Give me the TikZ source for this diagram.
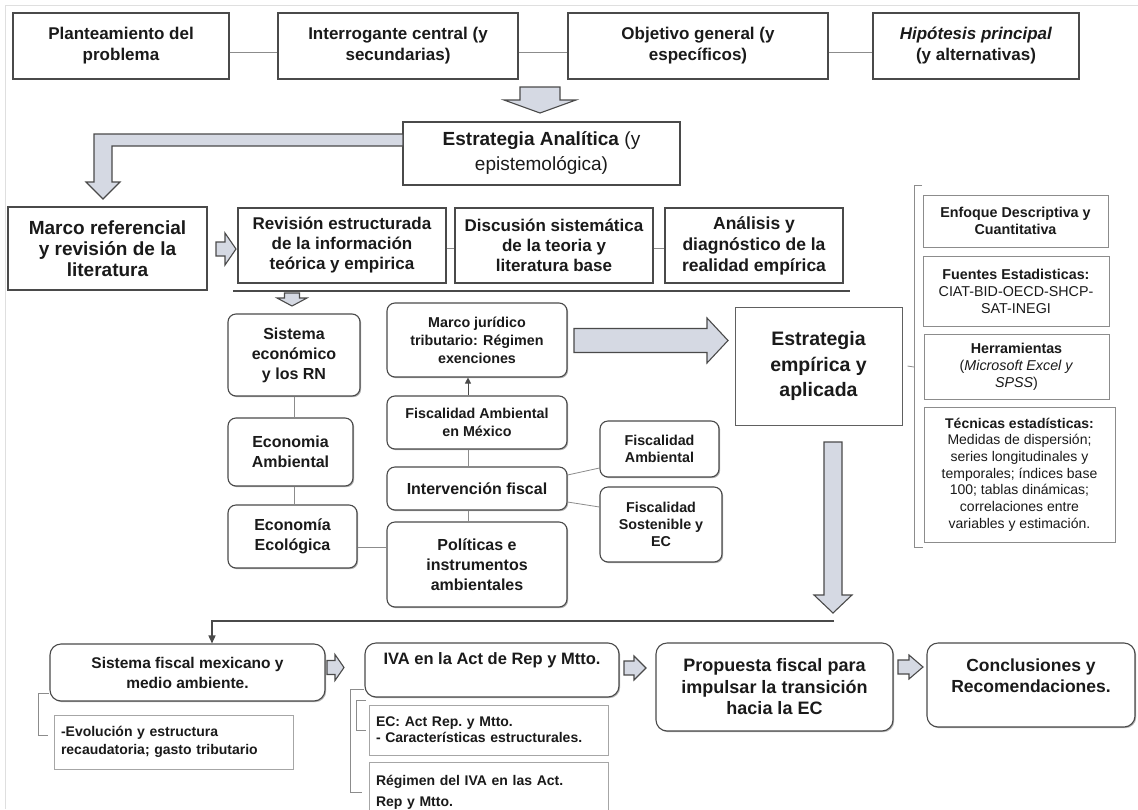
\documentclass[tikz,border=0pt]{standalone}
\usepackage{fontspec}
\setmainfont{Liberation Sans}
\usetikzlibrary{shadows,arrows.meta}
\definecolor{edge}{HTML}{4A4A4A}
\definecolor{afill}{HTML}{D5D9E3}
\definecolor{lgray}{HTML}{8C8C8C}
\definecolor{txt}{HTML}{1A1A1A}
\newcommand\FS[2]{\fontsize{#1}{#2}\selectfont}
% block arrow pointing down: cx, ytop, yhead, ytip, shaft half, head half, name
\newcommand\BlkDown[7]{%
  \draw[blk] ({#1-#5},#2) -- ({#1+#5},#2) -- ({#1+#5},#3) -- ({#1+#6},#3) -- (#1,#4) -- ({#1-#6},#3) -- ({#1-#5},#3) -- cycle;
  \coordinate (#7) at (#1,#4);}
% block arrow pointing right: cy, xleft, xhead, xtip, shaft half, head half, name
\newcommand\BlkRight[7]{%
  \draw[blk] (#2,{#1-#5}) -- (#3,{#1-#5}) -- (#3,{#1-#6}) -- (#4,#1) -- (#3,{#1+#6}) -- (#3,{#1+#5}) -- (#2,{#1+#5}) -- cycle;
  \coordinate (#7) at (#4,#1);}
\tikzset{
  sqbox/.style={draw=edge, line width=1.1pt, fill=white, inner sep=0pt, align=center, text=txt,
    drop shadow={shadow xshift=1.2pt, shadow yshift=-1.2pt, opacity=0.3, fill=black}},
  rbox/.style={sqbox, rounded corners=8pt},
  gbox/.style={draw=lgray, line width=1pt, fill=white, inner sep=0pt, align=center, text=txt,
    drop shadow={shadow xshift=1pt, shadow yshift=-1pt, opacity=0.2, fill=black}},
  blk/.style={draw=edge, line width=1.1pt, fill=afill, line join=miter},
  conn/.style={draw=lgray, line width=0.8pt},
  heavy/.style={draw=edge, line width=1.7pt},
  txtnode/.style={inner sep=0pt, align=center, text=txt},
}
\begin{document}
\begin{tikzpicture}[x=1pt,y=-1pt]
\useasboundingbox (0,0) rectangle (1138,809);
\fill[white] (0,0) rectangle (1138,809);
\draw[gray!25, line width=0.8pt] (1138,5) -- (5,5) -- (5,809);

% ---------- top row
\node[sqbox, font=\FS{17}{21}\bfseries, minimum width=216, minimum height=66] (b1) at (121,46) {Planteamiento del\\problema};
\node[sqbox, font=\FS{17}{21}\bfseries, minimum width=240, minimum height=66] (b2) at (398,46) {Interrogante central (y\\secundarias)};
\node[sqbox, font=\FS{17}{21}\bfseries, minimum width=260, minimum height=66] (b3) at (698,46) {Objetivo general (y\\específicos)};
\node[sqbox, font=\FS{17}{21}\bfseries, minimum width=206, minimum height=66] (b4) at (976,46) {\textit{Hipótesis principal}\\(y alternativas)};
\draw[conn] ([yshift=-6pt]b1.east) -- ([yshift=-6pt]b2.west);
\draw[conn] ([yshift=-6pt]b2.east) -- ([yshift=-6pt]b3.west);
\draw[conn] ([yshift=-6pt]b3.east) -- ([yshift=-6pt]b4.west);

\BlkDown{540}{87}{100}{113}{20}{36}{a1}

\node[sqbox, font=\FS{19}{25}, minimum width=277, minimum height=63] (ea) at (541.5,153.5) {\textbf{Estrategia Analítica} (y\\epistemológica)};
\draw[blk] (403,134) -- (94,134) -- (94,182) -- (86,182) -- (103,199) -- (120,182) -- (112,182) -- (112,146) -- (403,146) -- cycle;

% ---------- second row
\node[sqbox, font=\FS{19}{21}\bfseries, minimum width=199, minimum height=83] (mr) at (107.5,248.5) {Marco referencial\\y revisión de la\\literatura};
\BlkRight{249}{216}{225}{236}{7}{16}{a2}
\node[sqbox, font=\FS{17}{20}\bfseries, minimum width=208, minimum height=75] (rev) at (342,245.5) {Revisión estructurada\\de la información\\teórica y empirica};
\node[sqbox, font=\FS{17}{20}\bfseries, minimum width=198, minimum height=75] (dis) at (554,245.5) {Discusión sistemática\\de la teoria y\\literatura base};
\node[sqbox, font=\FS{17.5}{21}\bfseries, minimum width=178, minimum height=75] (ana) at (754,245.5) {Análisis y\\diagnóstico de la\\realidad empírica};
\draw[conn] ([yshift=-3pt]rev.east) -- ([yshift=-3pt]dis.west);
\draw[conn] ([yshift=-3pt]dis.east) -- ([yshift=-3pt]ana.west);
\coordinate (sepL) at (233,291);
\coordinate (sepR) at (850,291);
\draw[heavy] (sepL) -- (sepR);
\BlkDown{292}{293}{298}{306}{7.5}{15}{a3}

% ---------- middle left column
\node[rbox, font=\FS{16}{20}\bfseries, minimum width=132, minimum height=82] (sis) at (294,355) {Sistema\\económico\\y los RN};
\node[rbox, font=\FS{16}{20}\bfseries, minimum width=125, minimum height=68] (eamb) at (290.5,452) {Economia\\Ambiental};
\node[rbox, font=\FS{16}{20}\bfseries, minimum width=129, minimum height=63] (eeco) at (292.5,536.5) {Economía\\Ecológica};
\draw[conn] (sis.south) -- (sis.south |- eamb.north);
\draw[conn] (sis.south |- eamb.south) -- (sis.south |- eeco.north);

% ---------- middle centre column
\node[rbox, font=\FS{14.3}{18}\bfseries, minimum width=180, minimum height=74] (mj) at (477,340) {Marco jurídico\\tributario: Régimen\\exenciones};
\node[rbox, font=\FS{14.3}{18}\bfseries, minimum width=180, minimum height=53] (fam) at (477,422.5) {Fiscalidad Ambiental\\en México};
\node[rbox, font=\FS{16}{20}\bfseries, minimum width=180, minimum height=43] (int) at (477,488.5) {Intervención fiscal};
\node[rbox, font=\FS{16}{20}\bfseries, minimum width=180, minimum height=85] (pol) at (477,564.5) {Políticas e\\instrumentos\\ambientales};
\draw[conn, draw=edge, -{Triangle[length=6pt,width=6pt]}] ([xshift=-9pt]fam.north) -- ([xshift=-9pt]mj.south);
\draw[conn] ([xshift=-9pt]fam.south) -- ([xshift=-9pt]int.north);
\draw[conn] ([xshift=-9pt]int.south) -- ([xshift=-9pt]pol.north);
\draw[conn] ([yshift=-10.5pt]eeco.east) -- ([yshift=-10.5pt]eeco.east -| pol.west);

\node[rbox, font=\FS{14.3}{17}\bfseries, minimum width=119, minimum height=56] (fa) at (659.5,449) {Fiscalidad\\Ambiental};
\node[rbox, font=\FS{14.3}{17}\bfseries, minimum width=122, minimum height=75] (fsos) at (661,524.5) {Fiscalidad\\Sostenible y\\EC};
\draw[conn] ([yshift=13.5pt]int.east) -- ([yshift=-19pt]fa.west);
\draw[conn] ([yshift=-13.5pt]int.east) -- ([yshift=17.5pt]fsos.west);

% ---------- empirical strategy
\BlkRight{340.5}{574}{707}{728}{12}{22.5}{a4}
\node[sqbox, draw=gray!75!black, line width=1pt, font=\FS{19.5}{25.5}\bfseries, minimum width=167, minimum height=118] (ee) at (818.5,366) {Estrategia\\empírica y\\aplicada};
\BlkDown{833}{442}{595}{613}{9}{19}{a5}

% ---------- right column
\node[gbox, font=\FS{14.3}{17}\bfseries, minimum width=185, minimum height=52] (enf) at (1015.5,221) {Enfoque Descriptiva y\\Cuantitativa};
\node[gbox, font=\FS{14.3}{17}, minimum width=186, minimum height=70] (fue) at (1016,291) {\textbf{Fuentes Estadisticas:}\\CIAT-BID-OECD-SHCP-\\SAT-INEGI};
\node[gbox, font=\FS{14.3}{17}, minimum width=185, minimum height=65] (her) at (1016.5,366.5) {\textbf{Herramientas}\\(\textit{Microsoft Excel y}\\\textit{SPSS})};
\node[gbox, font=\FS{14}{16.7}, minimum width=191, minimum height=135] (tec) at (1019.5,474.5) {\textbf{Técnicas estadísticas:}\\Medidas de dispersión;\\series longitudinales y\\temporales; índices base\\100; tablas dinámicas;\\correlaciones entre\\variables y estimación.};
\draw[conn] (922,185) -- (914,185) -- (914,547) -- (923,547);
\draw[conn] ([xshift=5pt]ee.east) -- (914,367);

% ---------- bottom
\coordinate (lr) at (834,621);
\coordinate (ll) at (212,621);
\node[rbox, rounded corners=11pt, font=\FS{15.5}{20}\bfseries, minimum width=275, minimum height=57] (sf) at (187.5,672.5) {Sistema fiscal mexicano y\\medio ambiente.};
\draw[heavy, line width=1.5pt, -{Triangle[length=8pt,width=7pt]}] (lr) -- (ll) -- (ll |- sf.north);
\node[gbox, draw=gray!70, inner xsep=7pt, text width=225pt, align=left, font=\FS{14}{18}\bfseries, minimum height=54] (evo) at (173.5,742) {-Evolución y estructura\\recaudatoria; gasto tributario};
\draw[conn] (sf.west |- 0,693) -- (38,693) -- (38,735) -- (48,735);

\BlkRight{667.5}{327}{335}{344}{7}{13}{a6}
\node[rbox, rounded corners=11pt, minimum width=254, minimum height=54] (iva) at (492,670) {};
\node[txtnode, font=\FS{16.5}{20}\bfseries] (ivat) at (492,660) {IVA en la Act de Rep y Mtto.};
\node[gbox, draw=gray!70, inner xsep=7pt, text width=225pt, align=left, font=\FS{14}{16}\bfseries, minimum height=50] (ec) at (488.5,730) {EC: Act Rep.\ y Mtto.\\- Características estructurales.};
\node[gbox, draw=gray!70, inner xsep=7pt, text width=225pt, align=left, font=\FS{14}{21}\bfseries, minimum height=60] (reg) at (488.5,792) {Régimen del IVA en las Act.\\Rep y Mtto.};
\draw[conn] (364,689) -- (350,689) -- (350,792) -- (362,792);
\draw[conn] (366,700) -- (356,700) -- (356,730) -- (366,730);

\BlkRight{668}{624}{634}{646}{7}{12}{a7}
\node[rbox, rounded corners=11pt, font=\FS{18}{21.5}\bfseries, minimum width=237, minimum height=88] (prop) at (774.5,687) {Propuesta fiscal para\\impulsar la transición\\hacia la EC};
\BlkRight{667}{898}{909}{923}{7}{12}{a8}
\node[rbox, rounded corners=11pt, minimum width=208, minimum height=84] (conc) at (1031,685) {};
\node[txtnode, font=\FS{17.5}{21}\bfseries] (conct) at (1031,676) {Conclusiones y\\Recomendaciones.};
\end{tikzpicture}
\end{document}
